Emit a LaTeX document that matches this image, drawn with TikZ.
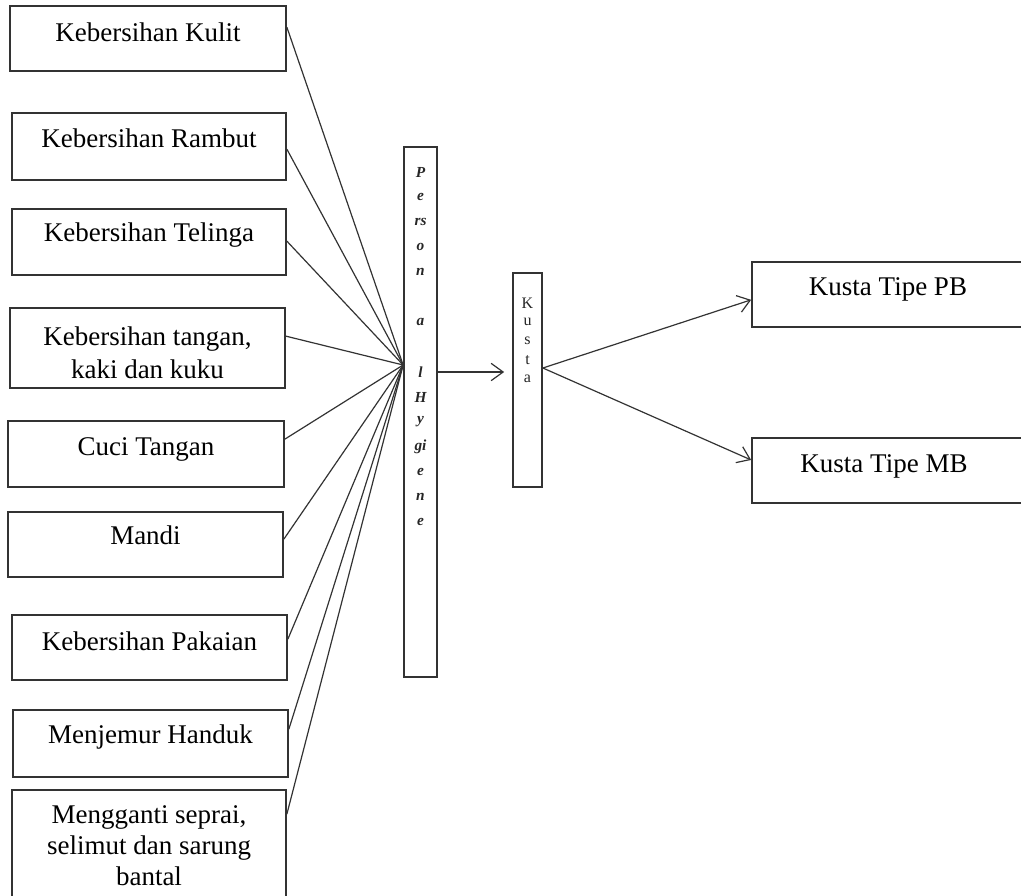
\documentclass[tikz,border=0pt]{standalone}
\usepackage{fontspec}
\setmainfont{Liberation Serif}
\usetikzlibrary{arrows.meta,fit,calc}
\begin{document}
\begin{tikzpicture}[x=0.75pt,y=-0.75pt,
  box/.style={draw=black!80,line width=1.3pt,inner sep=0pt},
  lbl/.style={font=\fontsize{20.25}{24.75}\selectfont,align=center,inner sep=0pt,anchor=base},
  con/.style={draw=black!80,line width=0.9pt},
  arr/.style={con,-{Straight Barb[length=9pt,width=13pt]}},
  vlet/.style={font=\fontsize{11.5}{11.5}\selectfont\bfseries\itshape,inner sep=0pt,text=black!85},
  klet/.style={font=\fontsize{12}{12}\selectfont,inner sep=0pt,text=black!85}]
\clip (0,0) rectangle (1021,896);
\fill[white] (0,0) rectangle (1021,896);
% left boxes
\node[box,fit={(10,6)(286,71)}] (b1) {};
\node[lbl] (t1) at (148,41) {Kebersihan Kulit};
\node[box,fit={(12,113)(286,180)}] (b2) {};
\node[lbl] (t2) at (149,147) {Kebersihan Rambut};
\node[box,fit={(12,209)(286,275)}] (b3) {};
\node[lbl] (t3) at (149,241) {Kebersihan Telinga};
\node[box,fit={(10,308)(285,388)}] (b4) {};
\node[lbl] (t4) at (147.5,378) {Kebersihan tangan,\\kaki dan kuku};
\node[box,fit={(8,421)(284,487)}] (b5) {};
\node[lbl] (t5) at (146,455) {Cuci Tangan};
\node[box,fit={(8,512)(283,577)}] (b6) {};
\node[lbl] (t6) at (145.5,544) {Mandi};
\node[box,fit={(12,615)(287,680)}] (b7) {};
\node[lbl] (t7) at (149.5,650) {Kebersihan Pakaian};
\node[box,fit={(13,710)(288,777)}] (b8) {};
\node[lbl] (t8) at (150.5,743) {Menjemur Handuk};
\node[box,fit={(12,790)(286,910)}] (b9) {};
\node[lbl,font=\fontsize{20.25}{23.25}\selectfont] (t9) at (149,885) {Mengganti seprai,\\selimut dan sarung\\bantal};
% person box
\node[box,fit={(404,147)(437,677)}] (person) {};
\foreach \t/\k in {P/0,e/1,rs/2,o/3,n/4,a/6,l/8,H/9,y/10,gi/11,e/12,n/13,e/14}
  \node[vlet] (v\k) at (420.5,172+25*\k) {\t};
% kusta box
\node[box,fit={(513,273)(542,487)}] (kusta) {};
\foreach \t/\k in {K/0,u/1,s/2,t/3,a/4}
  \node[klet] (k\k) at (527.5,303+19*\k) {\t};
% right boxes
\node[box,fit={(752,262)(1040,327)}] (pb) {};
\node[lbl] (tpb) at (888,295) {Kusta Tipe PB};
\node[box,fit={(752,438)(1040,503)}] (mb) {};
\node[lbl] (tmb) at (884,472) {Kusta Tipe MB};
% connectors
\coordinate (hub) at ([yshift=35.25pt]person.west);
\foreach \b/\dy in {b1/22,b2/37,b3/33,b4/29,b5/19,b6/28,b7/25,b8/20,b9/25}
  \draw[con] ([yshift=-\dy*0.75pt]\b.north east) -- (hub);
\coordinate (pin) at ([yshift=30pt]person.east);
\draw[arr,shorten >=6pt] (pin) -- (pin -| kusta.west);
\coordinate (kout) at ([yshift=9pt]kusta.east);
\draw[arr] (kout) -- ([yshift=-4pt]pb.west);
\draw[arr] (kout) -- ([yshift=7.9pt]mb.west);
\end{tikzpicture}
\end{document}
